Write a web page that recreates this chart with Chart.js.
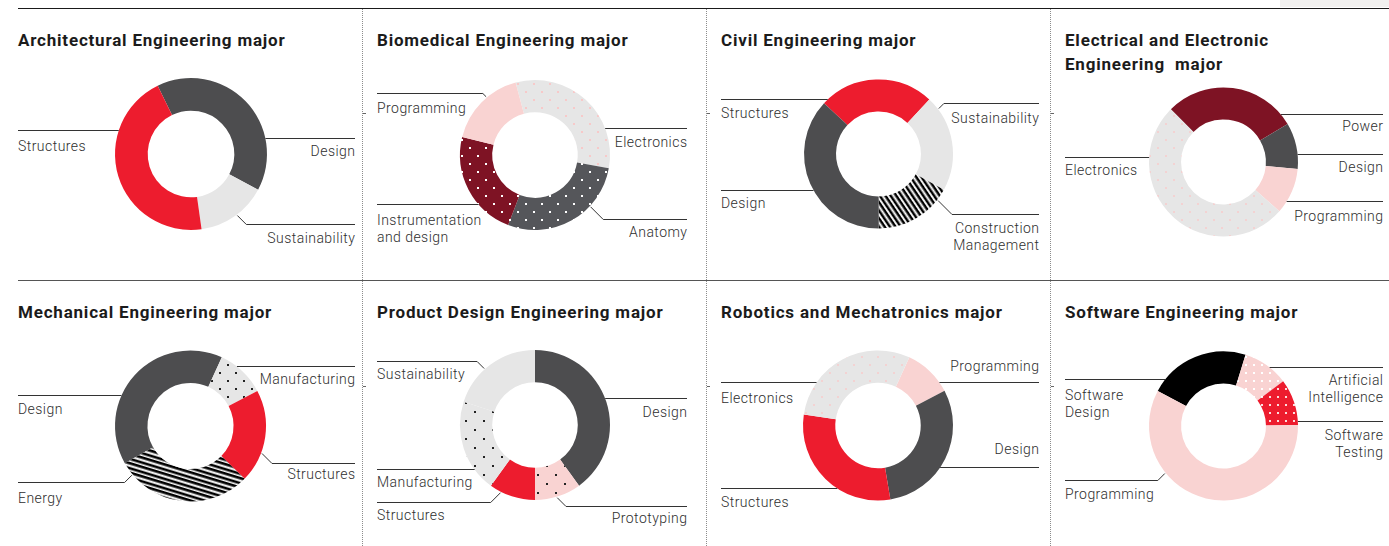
<!DOCTYPE html>
<html>
<head>
<meta charset="utf-8">
<script src="https://cdn.jsdelivr.net/npm/chart.js@4.4.1/dist/chart.umd.min.js"></script>
<style>
  body { margin: 0; width: 1389px; height: 546px; position: relative; background: #fff; overflow: hidden; font-family: Roboto, "Noto Sans", sans-serif; }
  .hrule { position: absolute; left: 18px; right: 0; height: 0; }
  .vsep { position: absolute; top: 9px; height: 537px; width: 0; border-left: 1px dotted #8c8c8c; }
  .tick { position: absolute; width: 3px; height: 1px; background: #666; }
  .title { position: absolute; font-weight: 700; font-size: 17px; letter-spacing: 0.8px; line-height: 24px; color: #1b1b1b; white-space: pre; }
  .lbl { position: absolute; font-weight: 300; font-size: 14px; letter-spacing: 0.45px; line-height: 16.5px; color: #2e2e2e; white-space: nowrap; }
  .lbl.r { margin-right: -0.45px; }
  canvas { position: absolute; }
</style>
</head>
<body>
<div style="position:absolute;left:1280px;top:0;width:109px;height:7px;background:#f1f0ef"></div>
<div class="hrule" style="top:8px;border-top:1.5px solid #1a1a1a"></div>
<div class="hrule" style="top:280px;border-top:1.5px solid #555"></div>
<div class="vsep" style="left:362px"></div>
<div class="vsep" style="left:706px"></div>
<div class="vsep" style="left:1050px"></div>
<div class="tick" style="left:363px;top:113px"></div>
<div class="tick" style="left:707px;top:113px"></div>
<div class="tick" style="left:1051px;top:113px"></div>
<div class="tick" style="left:363px;top:386px"></div>
<div class="tick" style="left:707px;top:386px"></div>
<div class="tick" style="left:1051px;top:386px"></div>
<script>
const archLabels = ['Design', 'Sustainability', 'Structures'];
const archValues = [40, 15, 45];

const bioLabels = ['Electronics', 'Anatomy', 'Instrumentation\nand design', 'Programming'];
const bioValues = [32, 28, 23, 17];

const civilLabels = ['Structures', 'Sustainability', 'Construction\nManagement', 'Design'];
const civilValues = [25, 21, 17, 37];

const elecLabels = ['Power', 'Design', 'Programming', 'Electronics'];
const elecValues = [29, 10, 10, 51];

const mechLabels = ['Design', 'Manufacturing', 'Structures', 'Energy'];
const mechValues = [40, 10.5, 20, 29.5];

const productLabels = ['Design', 'Prototyping', 'Structures', 'Manufacturing', 'Sustainability'];
const productValues = [40, 10, 10, 20, 20];

const roboticsLabels = ['Programming', 'Design', 'Structures', 'Electronics'];
const roboticsValues = [10.5, 30, 30, 29.5];

const softwareLabels = ['Software\nDesign', 'Artificial\nIntelligence', 'Software\nTesting', 'Programming'];
const softwareValues = [22, 10, 10, 58];

const RED = '#ed1c2e';
const DARK = '#4d4d4f';
const LIGHT = '#e6e6e6';
const PINK = '#f9d3d2';
const MAROON = '#7e1324';
const BLACK = '#000000';

function dots(bg, dot, step, size, stagger) {
  const c = document.createElement('canvas');
  c.width = step * 2;
  c.height = step * 2;
  const g = c.getContext('2d');
  g.fillStyle = bg;
  g.fillRect(0, 0, c.width, c.height);
  g.fillStyle = dot;
  const pts = stagger
    ? [[step / 2, step / 2], [step * 1.5, step * 1.5]]
    : [[step / 2, step / 2], [step * 1.5, step / 2], [step / 2, step * 1.5], [step * 1.5, step * 1.5]];
  pts.forEach(([x, y]) => g.fillRect(Math.round(x - size / 2), Math.round(y - size / 2), size, size));
  return g.createPattern(c, 'repeat');
}

function stripes(angle, period) {
  const c = document.createElement('canvas');
  c.width = 10;
  c.height = period * 2;
  const g = c.getContext('2d');
  g.fillStyle = '#fff';
  g.fillRect(0, 0, c.width, c.height);
  g.fillStyle = '#000';
  g.fillRect(0, 0, c.width, period * 0.55);
  g.fillRect(0, period, c.width, period * 0.55);
  const p = g.createPattern(c, 'repeat');
  p.setTransform(new DOMMatrix().rotate(angle));
  return p;
}

const panels = [
  { title: 'Architectural Engineering major', x: 0, y: 8, w: 362, h: 272, tl: 18, tr: 355,
    cx: 191, cy: 154, r: 76, rotation: -26,
    labels: archLabels, values: archValues,
    fills: [DARK, LIGHT, RED],
    notes: [
      { side: 'R', lineY: 138, textY: 151 },
      { side: 'R', lineY: 224, textY: 238, touch: 143 },
      { side: 'L', lineY: 130, textY: 146 }
    ] },
  { title: 'Biomedical Engineering major', x: 362, y: 8, w: 344, h: 272, tl: 377, tr: 687,
    cx: 535, cy: 155, r: 75, rotation: -15,
    labels: bioLabels, values: bioValues,
    fills: [dots(LIGHT, '#f7c9c9', 8, 2, true), dots('#55565a', '#fff', 8, 2, true), dots(MAROON, '#fff', 8, 2, true), PINK],
    notes: [
      { side: 'R', lineY: 128, textY: 142 },
      { side: 'R', lineY: 219, textY: 232, touch: 133 },
      { side: 'L', lineY: 204, textY: 220 },
      { side: 'L', lineY: 93, textY: 108, touch: 320 }
    ] },
  { title: 'Civil Engineering major', x: 706, y: 8, w: 344, h: 272, tl: 721, tr: 1039,
    cx: 878.5, cy: 154, r: 74.5, rotation: -47,
    labels: civilLabels, values: civilValues,
    fills: [RED, LIGHT, stripes(56, 4.6), DARK],
    notes: [
      { side: 'L', lineY: 99, textY: 113 },
      { side: 'R', lineY: 103, textY: 118, touch: 53 },
      { side: 'R', lineY: 214, textY: 228, touch: 128 },
      { side: 'L', lineY: 190, textY: 203 }
    ] },
  { title: 'Electrical and Electronic\nEngineering  major', x: 1050, y: 8, w: 339, h: 272, tl: 1065, tr: 1383,
    cx: 1223.5, cy: 162, r: 74.5, rotation: -45,
    labels: elecLabels, values: elecValues,
    fills: [MAROON, DARK, PINK, dots(LIGHT, '#f3d2d2', 8, 2, true)],
    notes: [
      { side: 'R', lineY: 114, textY: 126 },
      { side: 'R', lineY: 154, textY: 167 },
      { side: 'R', lineY: 201, textY: 216 },
      { side: 'L', lineY: 157, textY: 170 }
    ] },
  { title: 'Mechanical Engineering major', x: 0, y: 281, w: 362, h: 265, tl: 18, tr: 355,
    cx: 190.5, cy: 426, r: 75.5, rotation: -119.5,
    labels: mechLabels, values: mechValues,
    fills: [DARK, dots(LIGHT, '#222', 8, 2, true), RED, stripes(17, 4.8)],
    notes: [
      { side: 'L', lineY: 395, textY: 409 },
      { side: 'R', lineY: 366, textY: 379 },
      { side: 'R', lineY: 463, textY: 474, touch: 111 },
      { side: 'L', lineY: 482, textY: 498, touch: 230 }
    ] },
  { title: 'Product Design Engineering major', x: 362, y: 281, w: 344, h: 265, tl: 377, tr: 687,
    cx: 535, cy: 425, r: 75, rotation: 0,
    labels: productLabels, values: productValues,
    fills: [DARK, dots(PINK, '#222', 9, 2, true), RED, dots(LIGHT, '#222', 9, 2, true), LIGHT],
    notes: [
      { side: 'R', lineY: 398, textY: 412 },
      { side: 'R', lineY: 506, textY: 518, touch: 163 },
      { side: 'L', lineY: 502, textY: 515, touch: 207 },
      { side: 'L', lineY: 469, textY: 482 },
      { side: 'L', lineY: 361, textY: 374, touch: 318 }
    ] },
  { title: 'Robotics and Mechatronics major', x: 706, y: 281, w: 344, h: 265, tl: 721, tr: 1039,
    cx: 878, cy: 425.5, r: 75, rotation: 24.7,
    labels: roboticsLabels, values: roboticsValues,
    fills: [PINK, DARK, RED, dots(LIGHT, '#f3d2d2', 8, 2, true)],
    notes: [
      { side: 'R', lineY: 382, textY: 366 },
      { side: 'R', lineY: 467, textY: 449 },
      { side: 'L', lineY: 488, textY: 502 },
      { side: 'L', lineY: 382, textY: 398 }
    ] },
  { title: 'Software Engineering major', x: 1050, y: 281, w: 339, h: 265, tl: 1065, tr: 1383,
    cx: 1223.5, cy: 426, r: 74.5, rotation: -62,
    labels: softwareLabels, values: softwareValues,
    fills: [BLACK, dots(PINK, '#fff', 8, 2, false), dots(RED, '#fbdede', 8, 2, false), PINK],
    notes: [
      { side: 'L', lineY: 379, textY: 395 },
      { side: 'R', lineY: 367, textY: 380 },
      { side: 'R', lineY: 421, textY: 435 },
      { side: 'L', lineY: 480, textY: 494, touch: 231 }
    ] }
];

// leader lines from each label to the ring
const leaderLines = {
  id: 'leaderLines',
  afterDraw(chart, args, opts) {
    const p = opts.panel;
    const arc = chart.getDatasetMeta(0).data[0];
    const cx = arc.x, cy = arc.y, r = arc.outerRadius;
    const ctx = chart.ctx;
    ctx.save();
    ctx.strokeStyle = '#333';
    ctx.lineWidth = 1;
    p.notes.forEach(n => {
      const dir = n.side === 'R' ? 1 : -1;
      const y = Math.round(n.lineY - p.y) + 0.5;
      const endX = (dir > 0 ? p.tr : p.tl) - p.x;
      ctx.beginPath();
      if (n.touch !== undefined) {
        const a = n.touch * Math.PI / 180;
        const tx = cx + (r + 1) * Math.sin(a);
        const ty = cy - (r + 1) * Math.cos(a);
        const ex = tx + dir * Math.abs(y - ty);
        ctx.moveTo(tx, ty);
        ctx.lineTo(ex, y);
        ctx.lineTo(endX, y);
      } else {
        const dy = y - cy;
        const dx = Math.sqrt(Math.max(r * r - dy * dy, 0));
        ctx.moveTo(cx + dir * dx, y);
        ctx.lineTo(endX, y);
      }
      ctx.stroke();
    });
    ctx.restore();
  }
};

panels.forEach(p => {
  const t = document.createElement('div');
  t.className = 'title';
  t.textContent = p.title;
  t.style.left = p.tl + 'px';
  t.style.top = (p.y < 100 ? 28 : 300) + 'px';
  document.body.appendChild(t);

  p.labels.forEach((name, i) => {
    const n = p.notes[i];
    const d = document.createElement('div');
    d.className = 'lbl';
    d.innerHTML = name.split('\n').join('<br>');
    d.style.top = (n.textY - 8) + 'px';
    if (n.side === 'L') {
      d.style.left = p.tl + 'px';
    } else {
      d.classList.add('r');
      d.style.right = (1389 - p.tr) + 'px';
      d.style.textAlign = 'right';
    }
    document.body.appendChild(d);
  });

  const canvas = document.createElement('canvas');
  canvas.width = p.w;
  canvas.height = p.h;
  canvas.style.left = p.x + 'px';
  canvas.style.top = p.y + 'px';
  document.body.appendChild(canvas);

  new Chart(canvas.getContext('2d'), {
    type: 'doughnut',
    data: {
      labels: p.labels.map(s => s.replace('\n', ' ')),
      datasets: [{
        data: p.values,
        backgroundColor: p.fills,
        borderWidth: 0
      }]
    },
    options: {
      responsive: false,
      animation: false,
      cutout: '57%',
      rotation: p.rotation,
      layout: {
        padding: {
          left: p.cx - p.r - p.x,
          right: p.x + p.w - (p.cx + p.r),
          top: p.cy - p.r - p.y,
          bottom: p.y + p.h - (p.cy + p.r)
        }
      },
      plugins: {
        legend: { display: false },
        tooltip: { enabled: false },
        leaderLines: { panel: p }
      }
    },
    plugins: [leaderLines]
  });
});
</script>
</body>
</html>
